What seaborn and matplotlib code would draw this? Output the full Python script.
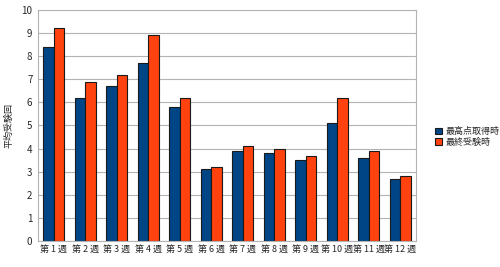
import pandas as pd
import matplotlib.pyplot as plt
import seaborn as sns

# values
weeks = ['第 1 週', '第 2 週', '第 3 週', '第 4 週', '第 5 週', '第 6 週',
         '第 7 週', '第 8 週', '第 9 週', '第 10 週', '第 11 週', '第 12 週']
best_score = [8.4, 6.2, 6.7, 7.7, 5.8, 3.1, 3.9, 3.8, 3.5, 5.1, 3.6, 2.7]
last_exam = [9.2, 6.9, 7.2, 8.9, 6.2, 3.2, 4.1, 4.0, 3.7, 6.2, 3.9, 2.8]
series = ['最高点取得時', '最終受験時']

data = pd.DataFrame({
    'week': weeks * 2,
    'value': best_score + last_exam,
    'series': [series[0]] * len(weeks) + [series[1]] * len(weeks),
})

sns.set_style('white')
plt.rcParams['font.family'] = ['Noto Sans CJK JP', 'DejaVu Sans']

fig = plt.figure(figsize=(5, 2.67), dpi=100)
ax = fig.add_axes([0.076, 0.097, 0.756, 0.866])

sns.barplot(data=data, x='week', y='value', hue='series', order=weeks,
            hue_order=series, palette=['#004586', '#ff420e'],
            width=0.66, gap=0, edgecolor='#1a1a1a', linewidth=0.8,
            saturation=1, ax=ax)

ax.set_ylim(0, 10)
ax.set_yticks(range(0, 11))
ax.yaxis.grid(True, color='#b3b3b3', linewidth=0.8)
ax.set_axisbelow(True)
for s in ax.spines.values():
    s.set_color('#b3b3b3')
    s.set_linewidth(0.8)
ax.tick_params(axis='y', length=0, labelsize=7, pad=4)
ax.tick_params(axis='x', length=0, labelsize=6.5, pad=3)
ax.set_xlabel('')
ax.set_ylabel('平均受験回', fontsize=6.5, labelpad=6)

ax.legend(loc='center left', bbox_to_anchor=(1.04, 0.45), frameon=False,
          fontsize=6.5, handlelength=0.8, handleheight=0.8, handletextpad=0.4,
          labelspacing=0.2, borderaxespad=0)

fig.savefig('out.png', dpi=100)
